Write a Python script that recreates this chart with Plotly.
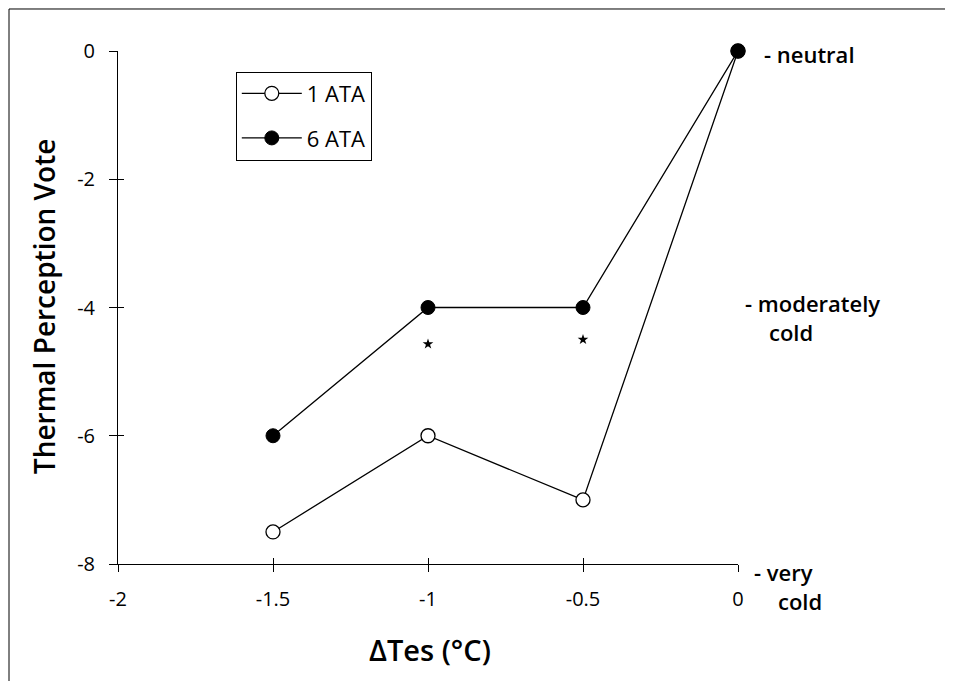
import plotly.graph_objects as go

dtes = [-1.5, -1.0, -0.5, 0.0]
vote_1ata = [-7.5, -6.0, -7.0, 0.0]
vote_6ata = [-6.0, -4.0, -4.0, 0.0]
star_x = [-1.0, -0.5]
star_y = [-4.57, -4.5]
x_ticks = [-2, -1.5, -1, -0.5, 0]
x_ticklabels = ["-2", "-1.5", "-1", "-0.5", "0"]
y_ticks = [0, -2, -4, -6, -8]
y_ticklabels = ["0", "-2", "-4", "-6", "-8"]
scale_values = [0, -4, -8]
scale_lines = [["- neutral"], ["- moderately", "cold"], ["- very", "cold"]]

FONT = "Open Sans, sans-serif"

fig = go.Figure()
fig.add_trace(go.Scatter(
    x=dtes, y=vote_1ata, mode="lines+markers", name="1 ATA", legendgroup="a",
    line=dict(color="black", width=1.3),
    marker=dict(symbol="circle", size=14, color="white", line=dict(color="black", width=1.3)),
    cliponaxis=False))
fig.add_trace(go.Scatter(
    x=dtes, y=vote_6ata, mode="lines+markers", name="6 ATA", legendgroup="b",
    line=dict(color="black", width=1.3),
    marker=dict(symbol="circle", size=14, color="black", line=dict(color="black", width=1)),
    cliponaxis=False))
fig.add_trace(go.Scatter(
    x=star_x, y=star_y, mode="markers", showlegend=False,
    marker=dict(symbol="star", size=8, color="black"), cliponaxis=False))

# right-hand scale labels: (first-line xshift, first-line yshift)
label_pos = [(24, -3), (5, 5), (14, -8)]
for yv, lines, (xs, ys) in zip(scale_values, scale_lines, label_pos):
    for i, txt in enumerate(lines):
        fig.add_annotation(x=0, y=yv, xref="x", yref="y", text=txt, showarrow=False,
                           xanchor="left", yanchor="middle",
                           xshift=xs + (24 if i else 0), yshift=ys - 29 * i,
                           font=dict(family=FONT, size=22, color="black", weight=600))

# axis titles as annotations
fig.add_annotation(x=-0.119, y=0.503, xref="paper", yref="paper", text="Thermal Perception Vote",
                   textangle=-90, showarrow=False, xanchor="center", yanchor="middle",
                   font=dict(family=FONT, size=28, color="black", weight=600))
fig.add_annotation(x=0.503, y=-0.166, xref="paper", yref="paper", text="ΔTes (°C)",
                   showarrow=False, xanchor="center", yanchor="middle",
                   font=dict(family=FONT, size=29, color="black", weight=600))

fig.update_layout(
    width=945, height=673,
    margin=dict(l=110, r=215, t=43, b=117),
    paper_bgcolor="white", plot_bgcolor="white",
    font=dict(family=FONT, size=17, color="black"),
    showlegend=True,
    legend=dict(x=0.19, y=0.96, xanchor="left", yanchor="top",
                bordercolor="black", borderwidth=1, bgcolor="white",
                font=dict(family=FONT, size=22, color="black"),
                itemwidth=60, tracegroupgap=13,
                entrywidth=120, entrywidthmode="pixels"),
    xaxis=dict(range=[-2, 0], tickvals=x_ticks, ticktext=x_ticklabels,
               showgrid=False, zeroline=False, showline=True, linecolor="black", linewidth=1,
               ticks="outside", ticklen=7, tickcolor="black", tickwidth=1,
               ticklabelstandoff=10,
               tickfont=dict(family=FONT, size=20)),
    yaxis=dict(range=[-8, 0], tickvals=y_ticks, ticktext=y_ticklabels,
               showgrid=False, zeroline=False, showline=True, linecolor="black", linewidth=1,
               ticks="outside", ticklen=8, tickcolor="black", tickwidth=1,
               ticklabelstandoff=10,
               tickfont=dict(family=FONT, size=20)),
    xaxis2=dict(range=[-2, 0], overlaying="x", tickvals=x_ticks, showticklabels=False,
                showgrid=False, zeroline=False, ticks="inside", ticklen=6, tickcolor="black"),
    yaxis2=dict(range=[-8, 0], overlaying="y", tickvals=y_ticks, showticklabels=False,
                showgrid=False, zeroline=False, ticks="inside", ticklen=6, tickcolor="black"),
)
fig.add_trace(go.Scatter(x=[None], y=[None], xaxis="x2", yaxis="y2", showlegend=False))

# outer frame (left and top edges)
fig.add_shape(type="line", xref="paper", yref="paper", x0=-0.1758, x1=1.4, y0=1.0819, y1=1.0819,
              line=dict(color="black", width=1))
fig.add_shape(type="line", xref="paper", yref="paper", x0=-0.1758, x1=-0.1758, y0=1.0819, y1=-0.25,
              line=dict(color="black", width=1))

fig.write_html("out.html")
